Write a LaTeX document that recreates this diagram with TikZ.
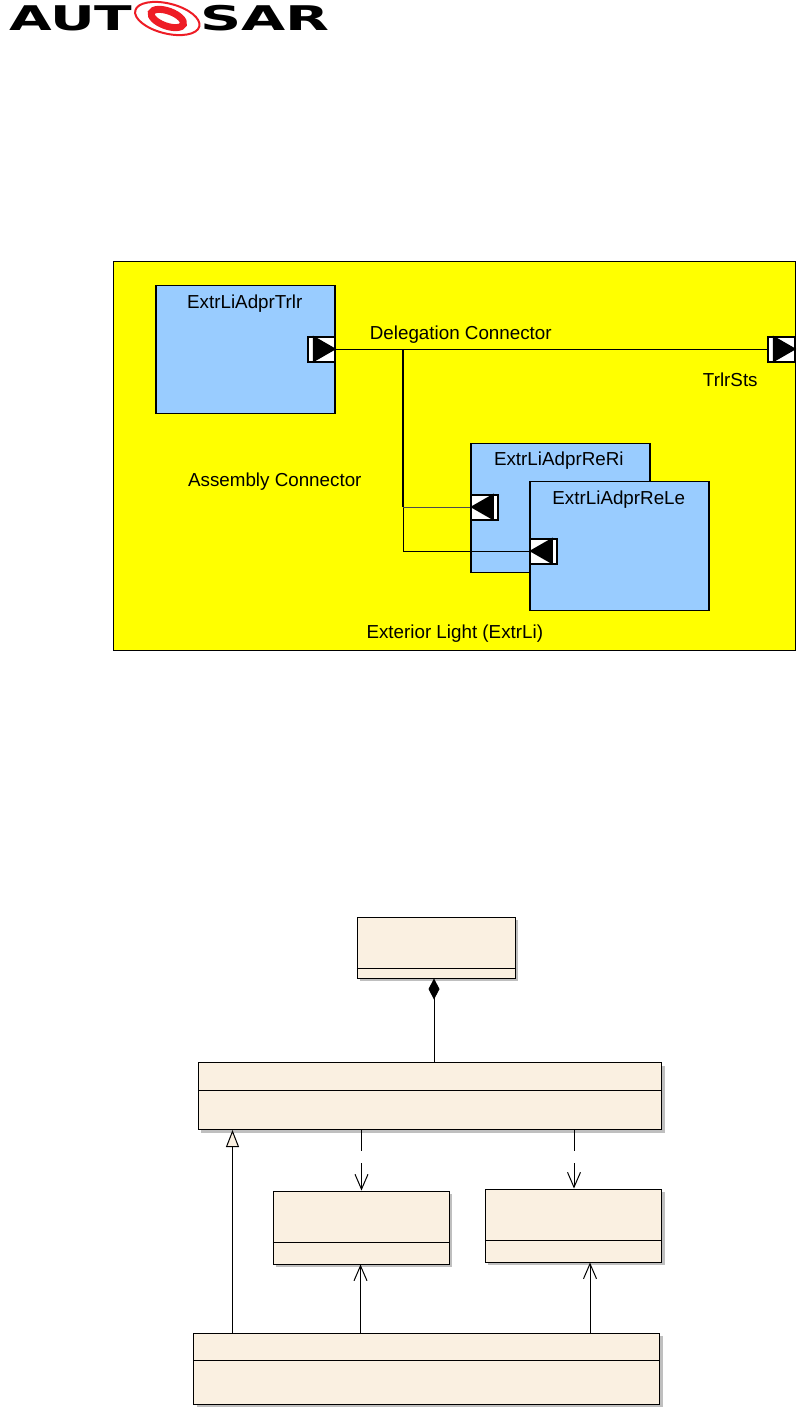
\documentclass[tikz,border=0pt]{standalone}
\usepackage{fontspec}
\setmainfont{Liberation Sans}
\newfontfamily\logofont{DejaVu Sans}
\usetikzlibrary{arrows.meta,shadows,shapes.geometric}
\definecolor{compyellow}{RGB}{255,255,0}
\definecolor{compblue}{RGB}{153,204,255}
\definecolor{classbeige}{RGB}{250,240,225}
\definecolor{logored}{RGB}{238,28,37}
\tikzset{
    compbox/.style={draw, line width=1.8pt, fill=compblue, anchor=north west, inner sep=0pt},
    classbox/.style={draw, line width=1pt, fill=classbeige, anchor=north west, inner sep=0pt,
        drop shadow={shadow xshift=3pt, shadow yshift=-3pt, fill=black!25, opacity=1}},
    portbox/.style={draw, line width=2pt, fill=white, anchor=north west, inner sep=0pt,
        minimum width=27pt, minimum height=25pt},
    label/.style={font=\fontsize{18.8}{20}\selectfont, inner sep=0pt},
    openarrow/.style={-{Straight Barb[length=15pt,width=13pt]}, line width=1pt},
}
\begin{document}
\begin{tikzpicture}[x=1pt,y=-1pt]
    \useasboundingbox (0.7,0.5) rectangle (796.7,1408.5);

    % Logo
    \node[inner sep=0pt] (logoAut) at (71.5,19) {\scalebox{1.62}[1]{\logofont\fontsize{34}{36}\selectfont\bfseries AUT}};
    \node[inner sep=0pt] (logoSar) at (265.5,19) {\scalebox{1.68}[1]{\logofont\fontsize{34}{36}\selectfont\bfseries SAR}};
    \draw[logored, line width=2pt, rotate around={-14:(168,19)}] (168,19) ellipse (33 and 15);
    \draw[logored, line width=7pt, rotate around={-20:(168,19)}] (168,19) ellipse (17 and 7.5);

    % Composition
    \node[draw, line width=1.5pt, fill=compyellow, anchor=north west, inner sep=0pt,
        minimum width=682pt, minimum height=389pt] (extrli) at (113.5,261) {};
    \node[compbox, minimum width=179pt, minimum height=128pt] (adprTrlr) at (156,285) {};
    \node[compbox, minimum width=179pt, minimum height=129pt] (adprReRi) at (470.5,443) {};
    \node[compbox, minimum width=179pt, minimum height=129pt] (adprReLe) at (529.5,481) {};

    % Ports
    \foreach \pname/\px/\py in {portTrlr/308/336, portSts/768/336} {
        \node[portbox] (\pname) at (\px,\py) {};
        \fill ([xshift=5.5pt]\pname.north west) -- (\pname.east) -- ([xshift=5.5pt]\pname.south west) -- cycle;
    }
    \foreach \pname/\px/\py in {portReRi/471/494, portReLe/530/538} {
        \node[portbox] (\pname) at (\px,\py) {};
        \fill ([xshift=-5.5pt]\pname.north east) -- (\pname.west) -- ([xshift=-5.5pt]\pname.south east) -- cycle;
    }

    % Connectors
    \coordinate (branchX) at (403.7,0);
    \draw[line width=1pt] (portTrlr.east) -- (portSts.west);
    \draw[line width=2pt] (branchX |- portTrlr.east) -- (branchX |- portReRi.west);
    \draw[line width=1pt] (branchX |- portReRi.west) -- (branchX |- portReLe.west) -- (portReLe.west);
    \draw[line width=0.7pt, black!70] (branchX |- portReRi.west) -- (portReRi.west);

    % Labels
    \node[label] (lblTrlr) at (245.5,304.5) {ExtrLiAdprTrlr};
    \node[label] (lblReRi) at (559.5,461) {ExtrLiAdprReRi};
    \node[label] (lblReLe) at (619.5,500.5) {ExtrLiAdprReLe};
    \node[label] (lblDeleg) at (461.5,335.5) {Delegation Connector};
    \node[label] (lblAssy) at (275.5,482) {Assembly Connector};
    \node[label] (lblSts) at (731,380.5) {TrlrSts};
    \node[label] (lblExtr) at (455.5,634.5) {Exterior Light (ExtrLi)};

    % Classes
    \node[classbox, minimum width=158pt, minimum height=61pt] (clsTop) at (357.5,917) {};
    \node[classbox, minimum width=463.5pt, minimum height=67pt] (clsMid) at (198.5,1062.5) {};
    \node[classbox, minimum width=176pt, minimum height=73pt] (clsLeft) at (273.5,1191) {};
    \node[classbox, minimum width=176.5pt, minimum height=73pt] (clsRight) at (485.5,1189) {};
    \node[classbox, minimum width=466pt, minimum height=71pt] (clsBot) at (194,1333) {};

    % Compartments
    \foreach \cname/\sy in {clsTop/969, clsMid/1091, clsLeft/1243, clsRight/1241, clsBot/1361} {
        \draw[line width=1pt] (\cname.west |- 0,\sy) -- (\cname.east |- 0,\sy);
    }

    % Relations
    \coordinate (xComp) at (434.7,0);
    \coordinate (xGen) at (233.2,0);
    \coordinate (xDepL) at (362.2,0);
    \coordinate (xDepR) at (574.7,0);
    \coordinate (xAscL) at (361.2,0);
    \coordinate (xAscR) at (590.7,0);
    \draw[{Diamond[length=21pt,width=11pt]}-, line width=1pt] (clsTop.south -| xComp) -- (clsMid.north -| xComp);
    \draw[-{Triangle[open,fill=classbeige,length=17pt,width=13pt]}, line width=1pt] (clsBot.north -| xGen) -- (clsMid.south -| xGen);
    \draw[openarrow, dash pattern=on 21pt off 12pt on 40pt] (clsMid.south -| xDepL) -- (clsLeft.north -| xDepL);
    \draw[openarrow, dash pattern=on 21pt off 12pt on 40pt] (clsMid.south -| xDepR) -- (clsRight.north -| xDepR);
    \draw[openarrow] (clsBot.north -| xAscL) -- (clsLeft.south -| xAscL);
    \draw[openarrow] (clsBot.north -| xAscR) -- (clsRight.south -| xAscR);
\end{tikzpicture}
\end{document}
